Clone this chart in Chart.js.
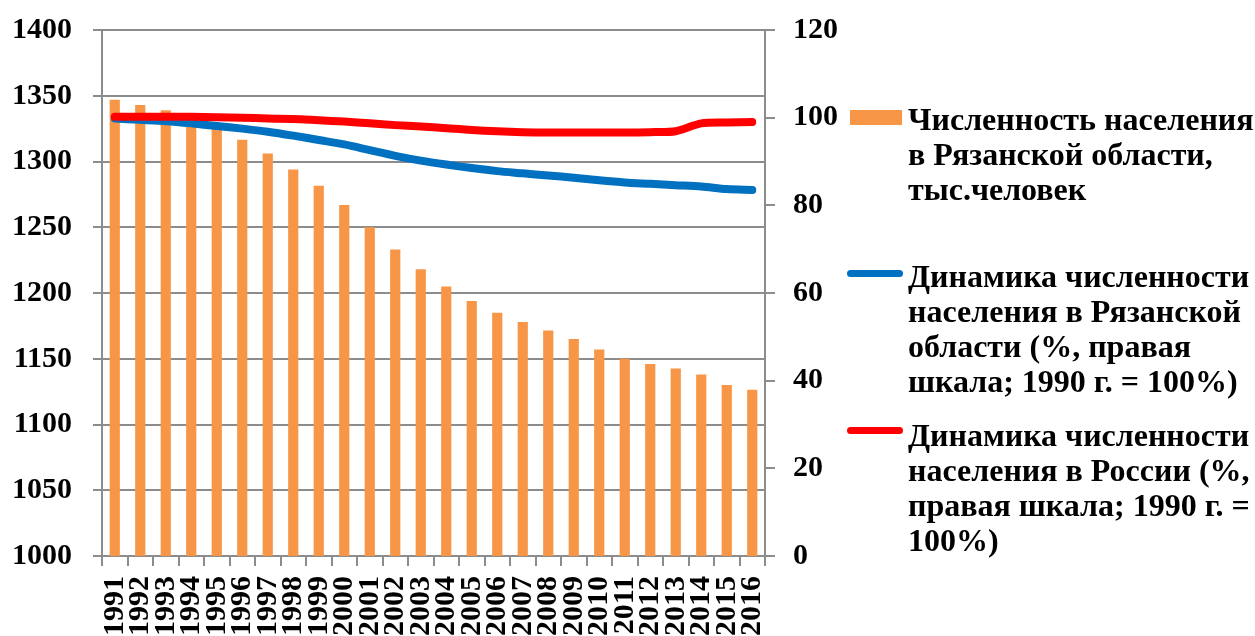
<!DOCTYPE html>
<html>
<head>
<meta charset="utf-8">
<script src="https://cdn.jsdelivr.net/npm/chart.js@4/dist/chart.umd.min.js"></script>
<style>
  body { margin: 0; background: #fff; }
  #wrap { position: relative; width: 1255px; height: 636px; overflow: hidden; }
  #grafico { position: absolute; left: 0; top: 0; }
  .leg { position: absolute; left: 908px; font: bold 32px "Liberation Serif", "Times New Roman", serif; line-height: 35px; color: #000; white-space: nowrap; }
  .mark { position: absolute; }
</style>
</head>
<body>
<div id="wrap">
  <canvas id="grafico" width="1255" height="636"></canvas>
  <div class="mark" style="left:850px;top:110px;width:52px;height:15px;background:#F79646"></div>
  <div class="leg" style="top:101.7px">Численность населения<br>в Рязанской области,<br>тыс.человек</div>
  <div class="mark" style="left:847px;top:269.5px;width:56px;height:7px;border-radius:4px;background:#0070C0"></div>
  <div class="leg" style="top:259px">Динамика численности<br>населения в Рязанской<br>области (%, правая<br>шкала; 1990 г. = 100%)</div>
  <div class="mark" style="left:847px;top:426.5px;width:56px;height:7px;border-radius:4px;background:#FF0000"></div>
  <div class="leg" style="top:417.7px">Динамика численности<br>населения в России (%,<br>правая шкала; 1990 г. =<br>100%)</div>
</div>
<script>
const anos = ["1991", "1992", "1993", "1994", "1995", "1996", "1997", "1998", "1999", "2000",
  "2001", "2002", "2003", "2004", "2005", "2006", "2007", "2008", "2009", "2010",
  "2011", "2012", "2013", "2014", "2015", "2016"];

// численность населения Рязанской области, тыс. человек
const poblacion = [1347, 1343, 1339, 1332, 1325, 1316.5, 1306, 1294, 1281.5, 1267,
  1250, 1233, 1218, 1205, 1194, 1185, 1178, 1171.5, 1165, 1157,
  1150, 1146, 1142.5, 1138, 1130, 1126.5];

// динамика, % к 1990 г.
const dinamicaRyazan = [99.8, 99.5, 99.2, 98.7, 98.1, 97.5, 96.8, 95.9, 94.9, 93.9,
  92.6, 91.3, 90.2, 89.3, 88.5, 87.8, 87.3, 86.8, 86.3, 85.7,
  85.2, 84.9, 84.6, 84.3, 83.7, 83.5];
const dinamicaRusia = [100.2, 100.2, 100.2, 100.2, 100.1, 100.0, 99.8, 99.7, 99.4, 99.1,
  98.7, 98.3, 98.0, 97.6, 97.2, 96.9, 96.7, 96.6, 96.6, 96.6,
  96.6, 96.7, 96.9, 98.7, 98.9, 99.0];

const ticksIzq = [1000, 1050, 1100, 1150, 1200, 1250, 1300, 1350, 1400];
const ticksDer = [0, 20, 40, 60, 80, 100, 120];

const fuente = { family: '"Liberation Serif", "Times New Roman", serif', size: 30, weight: "bold" };
const gris = "#8c8c8c";

// fixed axis sizes so the plot area sits where the original one does
function fijar(s, ancho, alto) {
  if (ancho !== null) s.width = ancho;
  if (alto !== null) s.height = alto;
  s.paddingTop = 0;
  s.paddingBottom = 0;
  s.paddingLeft = 0;
  s.paddingRight = 0;
}

const ctx = document.getElementById("grafico").getContext("2d");

window.miGrafico = new Chart(ctx, {
  type: "bar",
  data: {
    labels: anos,
    datasets: [
      {
        type: "line",
        data: dinamicaRusia,
        yAxisID: "y2",
        borderColor: "#FF0000",
        borderWidth: 8,
        borderCapStyle: "round",
        borderJoinStyle: "round",
        pointRadius: 0,
        tension: 0.3,
        order: 1,
      },
      {
        type: "line",
        data: dinamicaRyazan,
        yAxisID: "y2",
        borderColor: "#0070C0",
        borderWidth: 8,
        borderCapStyle: "round",
        borderJoinStyle: "round",
        pointRadius: 0,
        tension: 0.3,
        order: 2,
      },
      {
        data: poblacion,
        yAxisID: "y",
        backgroundColor: "#F79646",
        categoryPercentage: 1,
        barPercentage: 0.4,
        order: 3,
      },
    ],
  },
  options: {
    responsive: false,
    animation: false,
    layout: { padding: { top: 30, left: 0, right: 0, bottom: 0 } },
    plugins: { legend: { display: false }, tooltip: { enabled: false } },
    scales: {
      x: {
        grid: { drawOnChartArea: false, drawTicks: true, tickLength: 10, color: gris, lineWidth: 2 },
        border: { color: gris, width: 2 },
        ticks: { color: "#000", font: fuente, minRotation: 90, maxRotation: 90, padding: 10, autoSkip: false },
        afterFit: (s) => fijar(s, null, 80),
      },
      y: {
        position: "left",
        min: 1000,
        max: 1400,
        afterBuildTicks: (s) => { s.ticks = ticksIzq.map((v) => ({ value: v })); },
        grid: { color: gris, lineWidth: 2, tickLength: 9 },
        border: { color: gris, width: 2 },
        ticks: { color: "#000", font: fuente, padding: 21, callback: (v) => String(v) },
        afterFit: (s) => fijar(s, 102, null),
      },
      y2: {
        position: "right",
        min: 0,
        max: 120,
        afterBuildTicks: (s) => { s.ticks = ticksDer.map((v) => ({ value: v })); },
        grid: { drawOnChartArea: false, color: gris, lineWidth: 2, tickLength: 10 },
        border: { color: gris, width: 2 },
        ticks: { color: "#000", font: fuente, padding: 18, callback: (v) => String(v) },
        afterFit: (s) => fijar(s, 490, null),
      },
    },
  },
});
</script>
</body>
</html>
